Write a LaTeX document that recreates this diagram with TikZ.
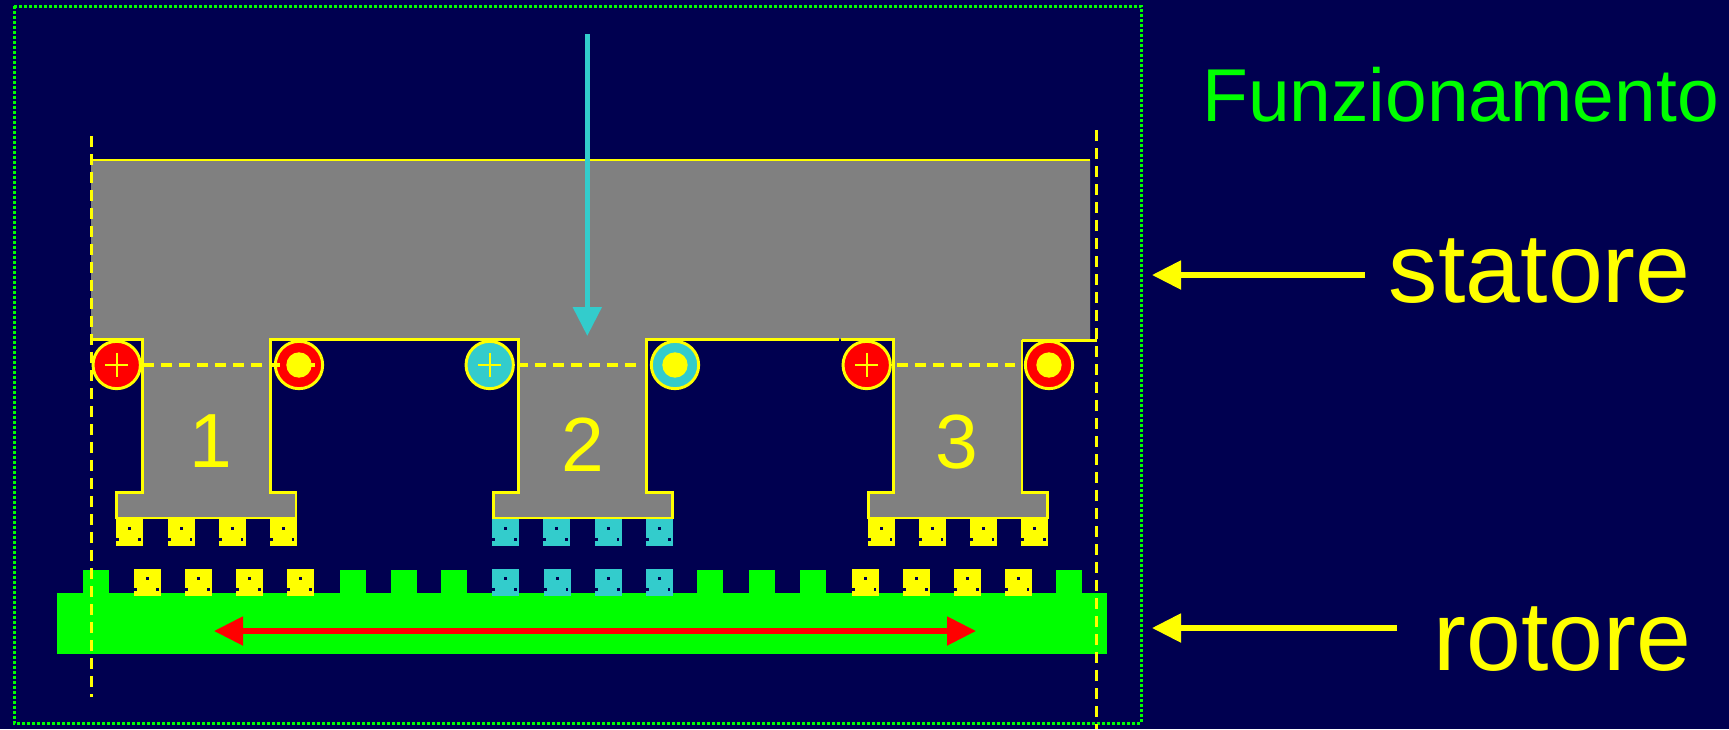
\documentclass[tikz,border=0pt]{standalone}
\usepackage{fontspec}
\setmainfont{Liberation Sans}
\usetikzlibrary{arrows.meta}
\definecolor{navybg}{RGB}{0,0,80}
\definecolor{cyanmark}{RGB}{51,204,204}
\definecolor{grayiron}{RGB}{128,128,128}
\definecolor{limeg}{RGB}{0,255,0}
\definecolor{yel}{RGB}{255,255,0}
\definecolor{redc}{RGB}{255,0,0}
\newcommand{\blockmark}[3]{%
  \fill[#3] (#1,#2) rectangle ++(27,27);
  \fill[navybg] (#1+12,#2+8) rectangle ++(3,3);
  \fill[navybg] (#1,#2+19) rectangle ++(3,3);
  \fill[navybg] (#1+22,#2+19) rectangle ++(2.5,3);
}
\tikzset{
  x=0.75pt,y=-0.75pt,
  outline/.style={draw=yel,line width=2.2pt,line join=miter},
  framedots/.style={draw=limeg,line width=2.4pt,dash pattern=on 2.25pt off 1.5pt},
  vdash/.style={draw=yel,line width=2.5pt,dash pattern=on 8.25pt off 5.25pt},
  hdash/.style={draw=yel,line width=2.4pt,dash pattern=on 8.25pt off 5.25pt},
  coil/.style={circle,draw=yel,line width=2.2pt,minimum size=35.5pt,inner sep=0pt},
  coildot/.style={circle,fill=yel,minimum size=19pt,inner sep=0pt},
  plusbar/.style={draw=yel,line width=1.7pt},
  bigarrow/.style={line width=3.9pt,-{Triangle[length=21.75pt,width=21pt]}},
  redarrow/.style={draw=redc,line width=3.9pt,{Triangle[length=21.75pt,width=21pt]}-{Triangle[length=21.75pt,width=21pt]}},
  label/.style={text=yel,anchor=base,inner sep=0pt},
}
\begin{document}
\begin{tikzpicture}
\path[use as bounding box,fill=navybg] (0,0) rectangle (1729,729);
% frame
\draw[framedots] (14.4,6.4) rectangle (1141.4,723.4);
% rotor
\fill[limeg] (57,593) rectangle (1107,654);
\foreach \x in {83,339.5,390.5,441,697,748.5,799.5,1055.5}{\fill[limeg] (\x,570) rectangle ++(26,23);}
\foreach \x in {134,185,236,287,851.5,903,954,1004.5}{\blockmark{\x}{569}{yel}}
\foreach \x in {492,543.5,595,645.5}{\blockmark{\x}{569}{cyanmark}}
% stator
\fill[grayiron] (91,160) -- (1090,160) -- (1090,340) -- (1022,340) -- (1022,492.7) -- (1047.7,492.7) -- (1047.7,518) -- (868.7,518) -- (868.7,492.7) -- (893.7,492.7) -- (893.7,339.3) -- (646.7,339.3) -- (646.7,492.7) -- (672.3,492.7) -- (672.3,518) -- (493.3,518) -- (493.3,492.7) -- (518.3,492.7) -- (518.3,339.3) -- (270.7,339.3) -- (270.7,492.7) -- (296,492.7) -- (296,518) -- (116.7,518) -- (116.7,492.7) -- (142.3,492.7) -- (142.3,339.3) -- (91,339.3) -- cycle;
\draw[outline] (91,160) -- (1090,160);
\draw[outline] (91,339.3) -- (142.3,339.3) -- (142.3,492.7) -- (116.7,492.7) -- (116.7,518) -- (296,518) -- (296,492.7) -- (270.7,492.7) -- (270.7,339.3) -- (518.3,339.3) -- (518.3,492.7) -- (493.3,492.7) -- (493.3,518) -- (672.3,518) -- (672.3,492.7) -- (646.7,492.7) -- (646.7,339.3) -- (838.5,339.3);
\draw[outline] (841,339.3) -- (893.7,339.3) -- (893.7,492.7) -- (868.7,492.7) -- (868.7,518) -- (1047.7,518) -- (1047.7,492.7) -- (1022,492.7) -- (1022,339.5);
\draw[outline] (1022,340.7) -- (1097,340.7);
% stator teeth
\foreach \x in {116,167.5,218.5,269.5,867.5,918.7,969.8,1021.3}{\blockmark{\x}{518.5}{yel}}
\foreach \x in {492,543.3,594.7,646}{\blockmark{\x}{518.5}{cyanmark}}
% coils
\node[coil,fill=redc] (c1a) at (116.7,365) {};
\node[coil,fill=redc] (c1b) at (299,365) {};
\node[coil,fill=cyanmark] (c2a) at (489.7,365) {};
\node[coil,fill=cyanmark] (c2b) at (675,365) {};
\node[coil,fill=redc] (c3a) at (866.7,365) {};
\node[coil,fill=redc] (c3b) at (1049,365) {};
\foreach \n in {c1a,c2a,c3a}{
  \draw[plusbar] (\n.center) ++(-11.7,0) -- ++(23.4,0);
  \draw[plusbar] (\n.center) ++(0,-11.7) -- ++(0,23.4);
}
\foreach \n in {c1b,c2b,c3b}{\node[coildot] at (\n.center) {};}
% horizontal dashes
\coordinate (h1s) at (143,365); \coordinate (h1e) at (315,365);
\coordinate (h2s) at (517,365); \coordinate (h2e) at (636,365);
\coordinate (h3s) at (897,365); \coordinate (h3e) at (1015,365);
\draw[hdash] (h1s) -- (h1e);
\draw[hdash] (h2s) -- (h2e);
\draw[hdash] (h3s) -- (h3e);
% vertical dashes
\coordinate (vlt) at (91.3,136); \coordinate (vlb) at (91.3,697);
\coordinate (vrt) at (1096.3,130); \coordinate (vrb) at (1096.3,729);
\draw[vdash] (vlt) -- (vlb);
\draw[vdash] (vrt) -- (vrb);
% arrows
\coordinate (fluxs) at (587.3,34); \coordinate (fluxe) at (587.3,336);
\draw[bigarrow,draw=cyanmark,cyanmark] (fluxs) -- (fluxe);
\coordinate (movel) at (214,631); \coordinate (mover) at (976,631);
\draw[redarrow,redc] (movel) -- (mover);
% labels
\node[label] (n1) at (211,467) {\fontsize{57.6pt}{60pt}\selectfont 1};
\node[label] (n2) at (583,471) {\fontsize{57.6pt}{60pt}\selectfont 2};
\node[label] (n3) at (957,468) {\fontsize{57.6pt}{60pt}\selectfont 3};
\node[label,text=limeg,anchor=base west] (title) at (1202,121) {\fontsize{56.2pt}{60pt}\selectfont Funzionamento};
\node[label,anchor=base west] (stat) at (1388.7,302.7) {\fontsize{74pt}{76pt}\selectfont statore};
\node[label,anchor=base west] (rot) at (1433.5,670.5) {\fontsize{74pt}{76pt}\selectfont rotore};
\coordinate (sa) at (1365,275); \coordinate (sb) at (1152,275);
\coordinate (ra) at (1397,628); \coordinate (rb) at (1152,628);
\draw[bigarrow,draw=yel,yel] (sa) -- (sb);
\draw[bigarrow,draw=yel,yel] (ra) -- (rb);
\end{tikzpicture}
\end{document}
